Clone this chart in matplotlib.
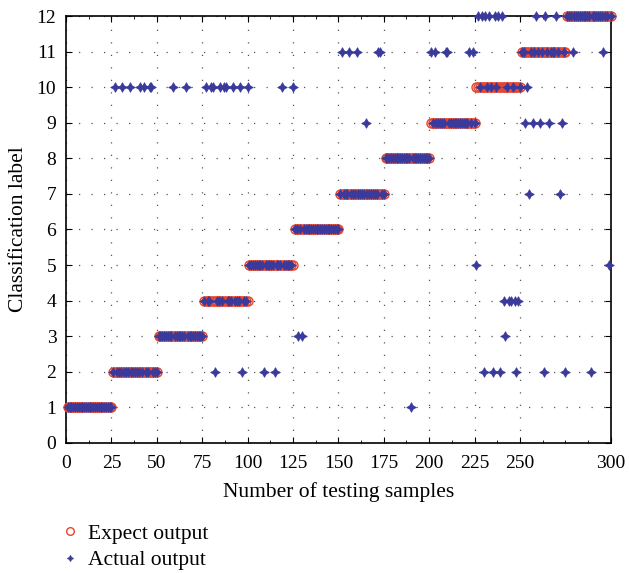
import numpy as np
import matplotlib.pyplot as plt

plt.rcParams['font.family'] = ['Liberation Serif', 'DejaVu Serif']

# classes 1..12, 25 testing samples each
class_labels = [1, 2, 3, 4, 5, 6, 7, 8, 9, 10, 11, 12]
samples_per_class = 25

# misclassified samples (sample number -> predicted label)
wrong_samples = [27, 31, 35, 41, 43, 46, 47,
                 59, 66,
                 77, 80, 81, 82, 85, 87, 88, 92, 96, 97, 100,
                 109, 115, 119, 125,
                 128, 130,
                 152, 156, 160, 165, 172, 173,
                 190,
                 201, 203, 209, 210, 222, 224,
                 226, 227, 229, 230, 231, 233, 235, 236, 238, 239, 240,
                 241, 242, 244, 245, 247, 248, 249,
                 253, 254, 255, 257, 259, 261, 263, 264, 266, 270, 272, 273, 275,
                 279, 289, 296, 299]
wrong_labels = [10, 10, 10, 10, 10, 10, 10,
                10, 10,
                10, 10, 10, 2, 10, 10, 10, 10, 10, 2, 10,
                2, 2, 10, 10,
                3, 3,
                11, 11, 11, 9, 11, 11,
                1,
                11, 11, 11, 11, 11, 11,
                5, 12, 12, 2, 12, 12, 2, 12, 12, 2, 12,
                4, 3, 4, 4, 4, 2, 4,
                9, 10, 7, 9, 12, 9, 2, 12, 9, 12, 7, 9, 2,
                11, 2, 11, 5]

sample_no = np.arange(1, len(class_labels) * samples_per_class + 1)
expect_out = np.repeat(class_labels, samples_per_class)
actual_out = expect_out.copy()
actual_out[np.array(wrong_samples) - 1] = wrong_labels

fig = plt.figure(figsize=(6.29, 5.73), dpi=100)
ax = fig.add_axes([0.105, 0.227, 0.866, 0.745])

ax.plot(sample_no, expect_out, linestyle='none', marker='o', markersize=6.5,
        markerfacecolor='none', markeredgecolor='#e8452c', markeredgewidth=1.0,
        label='Expect output', clip_on=False, zorder=3)
ax.plot(sample_no, actual_out, linestyle='none', marker=(4, 1, 0), markersize=7,
        color='#3a3a9c', markeredgewidth=0.5,
        label='Actual output', clip_on=False, zorder=4)

ax.set_xlim(0, 300)
ax.set_ylim(0, 12)
ax.set_xticks([0, 25, 50, 75, 100, 125, 150, 175, 200, 225, 250, 300])
ax.set_xticks(list(np.arange(12.5, 250, 25)) + [262.5, 275, 287.5], minor=True)
ax.set_yticks(range(0, 13))
ax.tick_params(which='both', direction='in', top=True, right=True, labelsize=14)
ax.tick_params(which='major', length=4)
ax.tick_params(which='minor', length=2.5)
ax.tick_params(axis='x', pad=9)
ax.tick_params(axis='y', pad=7)
ax.grid(True, which='major', color='#555555', linestyle=(0, (1, 9)), linewidth=0.9)
ax.set_axisbelow(True)
for s in ax.spines.values():
    s.set_linewidth(1.2)

ax.set_xlabel('Number of testing samples', fontsize=15.5, labelpad=7)
ax.set_ylabel('Classification label', fontsize=15.5, labelpad=6)

leg = fig.legend(loc='upper left', bbox_to_anchor=(0.094, 0.086), frameon=False,
                 fontsize=15.5, handlelength=1.0, handletextpad=0.35,
                 labelspacing=0.3, borderpad=0, borderaxespad=0)
leg.legend_handles[0].set_markersize(5.5)
leg.legend_handles[1].set_markersize(4.5)

fig.savefig('out.png', dpi=100)
